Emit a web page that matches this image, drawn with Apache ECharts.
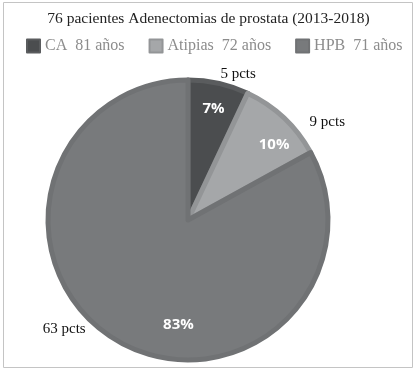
<!DOCTYPE html>
<html>
<head>
<meta charset="utf-8">
<script src="https://cdn.jsdelivr.net/npm/echarts@6/dist/echarts.min.js"></script>
<style>
  html, body { margin: 0; padding: 0; background: #fff; }
  #chart { width: 417px; height: 381px; }
</style>
</head>
<body>
<div id="chart"></div>
<script>
// datos del gráfico
const categorias = ['CA', 'Atipias', 'HPB'];
const edades = ['81 años', '72 años', '71 años'];
const porcentajes = [7, 10, 83];
const pacientes = [5, 9, 63];

const colores = ['#4b4d4f', '#a5a7a9', '#787a7c'];
const bordes = ['#5a5c5e', '#939597', '#707274'];
const serif = '"Liberation Serif", "DejaVu Serif", serif';

// pequeños ajustes de etiquetas (como en el original de Excel)
const ajusteFuera = [[-8, -5], [14, 7], [-20, -15]];
const ajusteDentro = [[0, 3], [6, 10], [0, -4]];

const chart = echarts.init(document.getElementById('chart'));

const datos = categorias.map((c, i) => ({
  name: c,
  value: porcentajes[i],
  itemStyle: { color: colores[i], borderColor: bordes[i] }
}));

chart.setOption({
  animation: false,
  title: {
    text: '76 pacientes Adenectomias de prostata (2013-2018)',
    left: 'center',
    top: 6,
    textStyle: { fontFamily: serif, fontSize: 15.5, fontWeight: 'normal', color: '#222' }
  },
  legend: {
    top: 33,
    left: 21,
    icon: 'rect',
    itemWidth: 13,
    itemHeight: 13,
    itemGap: 24,
    data: categorias,
    formatter: n => n + '  ' + edades[categorias.indexOf(n)],
    textStyle: { fontFamily: serif, fontSize: 16, color: '#8c8c8c' }
  },
  graphic: [{
    type: 'rect',
    shape: { x: 3.5, y: 2.5, width: 409, height: 365 },
    style: { fill: 'none', stroke: '#c4c4c4', lineWidth: 1 },
    silent: true
  }],
  series: [
    {
      type: 'pie',
      center: [188, 220],
      radius: [0, 140],
      startAngle: 90,
      clockwise: true,
      itemStyle: { borderWidth: 5 },
      label: {
        position: 'outside',
        fontFamily: serif,
        fontSize: 15,
        color: '#111',
        formatter: p => pacientes[p.dataIndex] + ' pcts'
      },
      labelLine: { show: false, length: 4, length2: 4 },
      labelLayout: p => ({ dx: ajusteFuera[p.dataIndex][0], dy: ajusteFuera[p.dataIndex][1] }),
      emphasis: { disabled: true },
      data: datos
    },
    {
      type: 'pie',
      center: [188, 220],
      radius: [86, 142],
      startAngle: 90,
      clockwise: true,
      silent: true,
      itemStyle: { color: 'rgba(0,0,0,0)' },
      label: {
        position: 'inside',
        fontFamily: '"Open Sans", "Noto Sans", sans-serif',
        fontSize: 15,
        fontWeight: 'bold',
        color: '#fff',
        formatter: p => porcentajes[p.dataIndex] + '%'
      },
      labelLayout: p => {
        const a = ajusteDentro[p.dataIndex];
        return p.dataIndex === 2 ? { dx: 50 + a[0], dy: 8 + a[1] } : { dx: a[0], dy: a[1] };
      },
      emphasis: { disabled: true },
      data: porcentajes.map((v, i) => ({ name: categorias[i], value: v }))
    }
  ]
});
</script>
</body>
</html>
